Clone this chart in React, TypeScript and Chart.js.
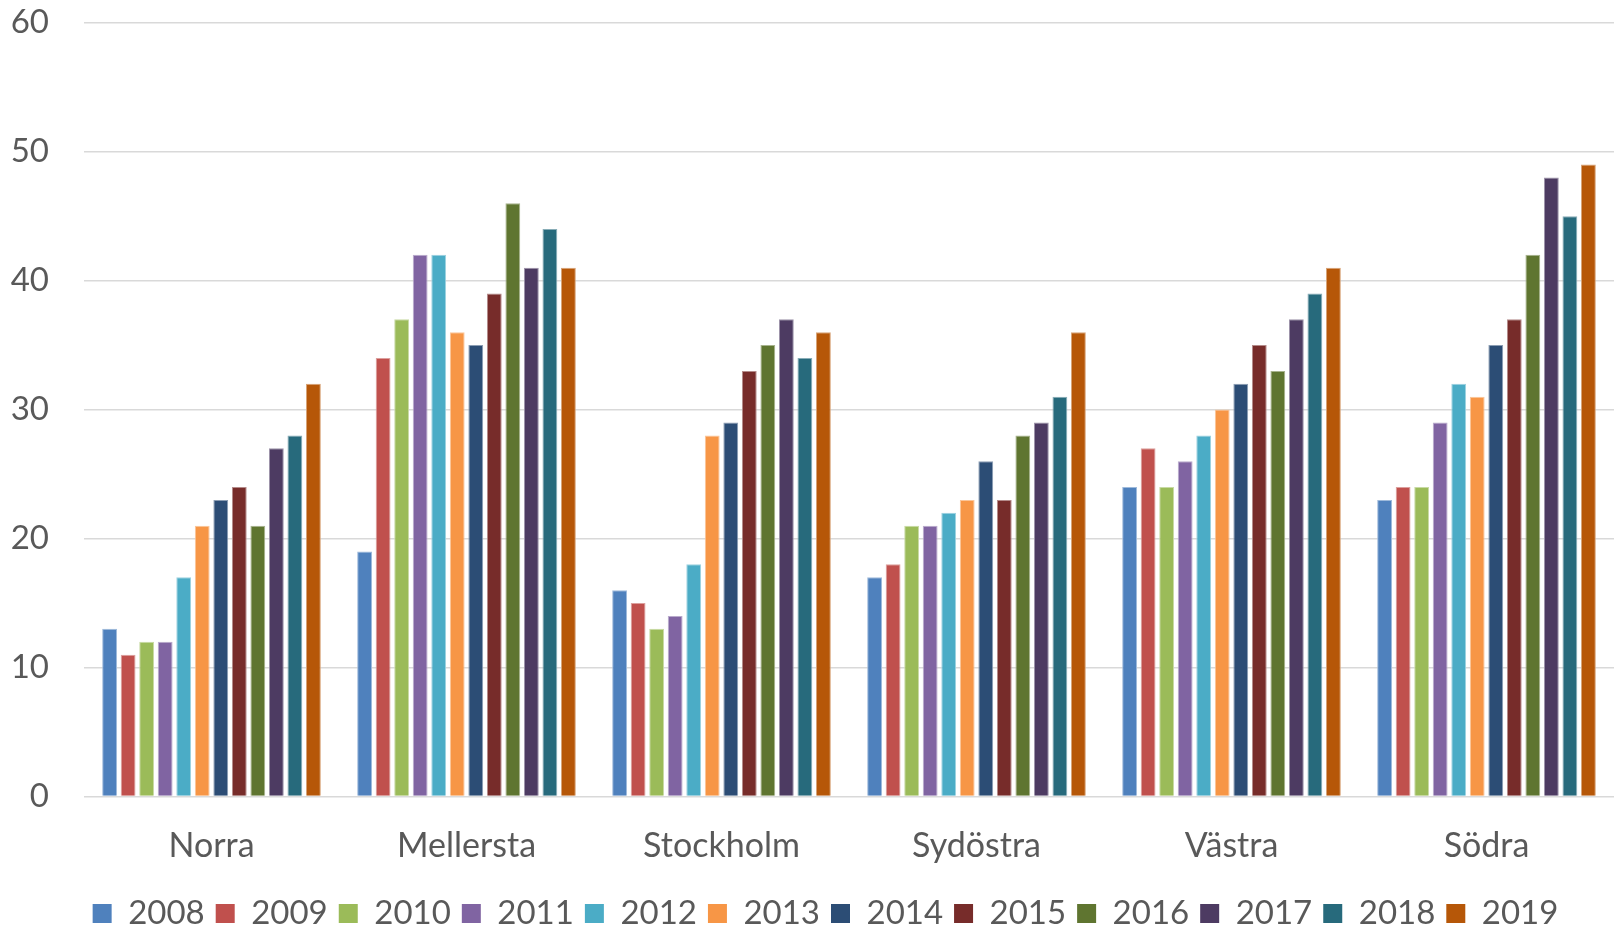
import React, { useEffect, useRef } from "react";
import { Chart, registerables } from "chart.js";
Chart.register(...registerables);

const categories = ["Norra", "Mellersta", "Stockholm", "Sydöstra", "Västra", "Södra"];
const years = ["2008", "2009", "2010", "2011", "2012", "2013", "2014", "2015", "2016", "2017", "2018", "2019"];

const v2008 = [13, 19, 16, 17, 24, 23];
const v2009 = [11, 34, 15, 18, 27, 24];
const v2010 = [12, 37, 13, 21, 24, 24];
const v2011 = [12, 42, 14, 21, 26, 29];
const v2012 = [17, 42, 18, 22, 28, 32];
const v2013 = [21, 36, 28, 23, 30, 31];
const v2014 = [23, 35, 29, 26, 32, 35];
const v2015 = [24, 39, 33, 23, 35, 37];
const v2016 = [21, 46, 35, 28, 33, 42];
const v2017 = [27, 41, 37, 29, 37, 48];
const v2018 = [28, 44, 34, 31, 39, 45];
const v2019 = [32, 41, 36, 36, 41, 49];

const seriesValues = [v2008, v2009, v2010, v2011, v2012, v2013, v2014, v2015, v2016, v2017, v2018, v2019];
const colors = [
  "#4F81BD", "#C0504D", "#9BBB59", "#8064A2", "#4BACC6", "#F79646",
  "#2C4D75", "#772C2A", "#5F7530", "#4D3B62", "#276A7C", "#B65708",
];

const yTicks = [0, 10, 20, 30, 40, 50, 60];

const FONT = "Lato, 'Open Sans', sans-serif";
const TEXT = "#595959";

function lighten(hex: string, t: number) {
  const n = parseInt(hex.slice(1), 16);
  const r = (n >> 16) & 255, g = (n >> 8) & 255, b = n & 255;
  const m = (c: number) => Math.round(c + (255 - c) * t);
  return `rgb(${m(r)},${m(g)},${m(b)})`;
}

const legendShift = {
  id: "legendShift",
  afterLayout(chart: any) {
    const l = chart.legend;
    if (l) {
      l.left += 26;
    }
  },
};

export default function App() {
  const ref = useRef<HTMLCanvasElement | null>(null);

  useEffect(() => {
    if (!ref.current) return;
    const chart = new Chart(ref.current, {
      type: "bar",
      data: {
        labels: categories,
        datasets: years.map((y, i) => ({
          label: y,
          data: seriesValues[i],
          backgroundColor: colors[i],
          borderColor: lighten(colors[i], 0.45),
          borderWidth: 1,
          barPercentage: 0.8,
          categoryPercentage: 0.872,
        })),
      },
      plugins: [legendShift],
      options: {
        animation: false,
        responsive: false,
        maintainAspectRatio: false,
        layout: { padding: { left: 11, right: 0, top: 22.7, bottom: 0 } },
        plugins: {
          tooltip: { enabled: false },
          legend: {
            position: "bottom",
            labels: {
              boxWidth: 19,
              boxHeight: 19,
              padding: 11,
              color: TEXT,
              font: { family: FONT, size: 33 },
              generateLabels: (c: any) =>
                c.data.datasets.map((d: any, i: number) => ({
                  text: d.label,
                  fillStyle: colors[i],
                  strokeStyle: colors[i],
                  lineWidth: 0,
                  fontColor: TEXT,
                  hidden: false,
                  datasetIndex: i,
                })),
            },
          },
        },
        scales: {
          x: {
            grid: { display: false, drawTicks: false },
            border: { display: false },
            ticks: {
              color: TEXT,
              font: { family: FONT, size: 34 },
              padding: 29.5,
            },
            afterFit: (s: any) => {
              s.height = 89.5;
              s.paddingLeft = 0;
              s.paddingRight = 0;
            },
          },
          y: {
            min: 0,
            max: 60,
            afterBuildTicks: (s: any) => {
              s.ticks = yTicks.map((v) => ({ value: v }));
            },
            grid: { color: "#D9D9D9", lineWidth: 1.5, drawTicks: false },
            border: { display: false },
            ticks: {
              color: TEXT,
              font: { family: FONT, size: 33 },
              padding: 35,
            },
            afterFit: (s: any) => {
              s.width = 73;
              s.paddingTop = 0;
              s.paddingBottom = 0;
            },
          },
        },
      },
    });
    return () => chart.destroy();
  }, []);

  return (
    <div style={{ position: "fixed", left: 0, top: 0, width: 1614, height: 926, overflow: "hidden", background: "#fff" }}>
      <canvas ref={ref} width={1614} height={940} style={{ display: "block", width: 1614, height: 940 }} />
    </div>
  );
}
